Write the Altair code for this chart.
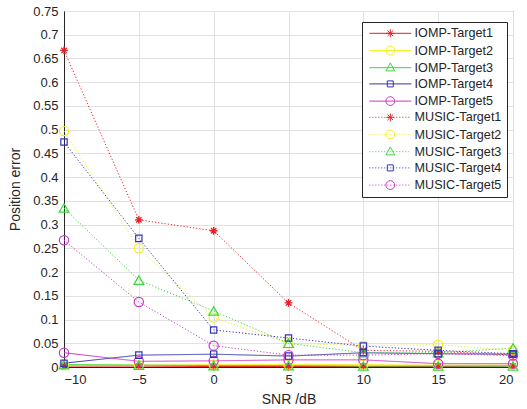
import altair as alt
import pandas as pd

snr = [-10, -5, 0, 5, 10, 15, 20]
series_names = ["IOMP-Target1", "IOMP-Target2", "IOMP-Target3", "IOMP-Target4", "IOMP-Target5",
                "MUSIC-Target1", "MUSIC-Target2", "MUSIC-Target3", "MUSIC-Target4", "MUSIC-Target5"]
iomp_t1 = [0.002, 0.002, 0.001, 0.001, 0.001, 0.001, 0.002]
iomp_t2 = [0.004, 0.004, 0.005, 0.005, 0.005, 0.004, 0.004]
iomp_t3 = [0.005, 0.004, 0.003, 0.003, 0.002, 0.002, 0.002]
iomp_t4 = [0.008, 0.025, 0.027, 0.023, 0.030, 0.028, 0.027]
iomp_t5 = [0.030, 0.012, 0.013, 0.015, 0.015, 0.007, 0.007]
music_t1 = [0.667, 0.310, 0.287, 0.135, 0.035, 0.033, 0.025]
music_t2 = [0.497, 0.250, 0.104, 0.050, 0.045, 0.047, 0.035]
music_t3 = [0.335, 0.183, 0.118, 0.050, 0.030, 0.030, 0.040]
music_t4 = [0.474, 0.271, 0.078, 0.061, 0.044, 0.035, 0.028]
music_t5 = [0.267, 0.137, 0.045, 0.025, 0.025, 0.028, 0.024]
series_values = [iomp_t1, iomp_t2, iomp_t3, iomp_t4, iomp_t5,
                 music_t1, music_t2, music_t3, music_t4, music_t5]
marker_of_target = ["star", "circle", "triangle", "square", "circle"]

colors = ["#f01c24", "#f2ee2a", "#3ad83a", "#3434b4", "#c838c8"] * 2

rows = []
for i, (name, vals) in enumerate(zip(series_names, series_values)):
    method = name.split("-")[0]
    for x, v in zip(snr, vals):
        rows.append({"snr": x, "value": v, "series": name, "method": method,
                     "marker": marker_of_target[i % 5]})
df = pd.DataFrame(rows)

FONT = "Liberation Sans"
STAR = "M-1,0L1,0M0,-1L0,1M-0.7,-0.7L0.7,0.7M-0.7,0.7L0.7,-0.7"


def f(v):
    return f"{v:.3f}"


def legend_path(marker, dotted):
    x0, x1, cx = -1.0, 9.5, 4.25
    if dotted:
        parts = []
        x = x0
        while x < x1:
            parts.append(f"M{f(x)},0L{f(min(x + 0.25, x1))},0")
            x += 0.75
        line = "".join(parts)
    else:
        line = f"M{f(x0)},0L{f(x1)},0"
    if marker == "star":
        r = 1.0
        d = 0.7 * r
        m = (f"M{f(cx - r)},0L{f(cx + r)},0M{f(cx)},{f(-r)}L{f(cx)},{f(r)}"
             f"M{f(cx - d)},{f(-d)}L{f(cx + d)},{f(d)}M{f(cx - d)},{f(d)}L{f(cx + d)},{f(-d)}")
    elif marker == "circle":
        r = 1.1
        m = f"M{f(cx + r)},0A{f(r)},{f(r)} 0 1 1 {f(cx - r)},0A{f(r)},{f(r)} 0 1 1 {f(cx + r)},0Z"
    elif marker == "triangle":
        m = f"M{f(cx)},-1.2L{f(cx + 1.1)},0.8L{f(cx - 1.1)},0.8Z"
    else:
        s = 0.75
        m = f"M{f(cx - s)},{f(-s)}L{f(cx + s)},{f(-s)}L{f(cx + s)},{f(s)}L{f(cx - s)},{f(s)}Z"
    return line + m


legend_paths = [legend_path(marker_of_target[i % 5], i >= 5) for i in range(10)]

color_scale = alt.Scale(domain=series_names, range=colors)
x_enc = alt.X("snr:Q", title="SNR /dB",
              scale=alt.Scale(domain=[-10, 20], nice=False),
              axis=alt.Axis(values=snr, format="d"))
y_vals = [round(i * 0.05, 2) for i in range(16)]
y_enc = alt.Y("value:Q", title="Position error",
              scale=alt.Scale(domain=[0, 0.75], nice=False, zero=False),
              axis=alt.Axis(values=y_vals, format=".2~f"))

base = alt.Chart(df)

lines = base.mark_line(strokeWidth=1, clip=True).encode(
    x=x_enc, y=y_enc,
    color=alt.Color("series:N", scale=color_scale, legend=None),
    strokeDash=alt.StrokeDash("method:N", scale=alt.Scale(domain=["IOMP", "MUSIC"],
                                                          range=[[1, 0], [1.2, 2]]), legend=None),
    detail="series:N",
)

marker_specs = [("star", STAR, 60, 1.3), ("circle", "circle", 85, 1.2),
                ("triangle", "triangle-up", 95, 1.2), ("square", "square", 40, 1.2)]
point_layers = []
for mk, shape, size, sw in marker_specs:
    point_layers.append(
        base.transform_filter(alt.datum.marker == mk).mark_point(
            shape=shape, filled=False, size=size, strokeWidth=sw, opacity=1
        ).encode(
            x=x_enc, y=y_enc,
            color=alt.Color("series:N", scale=color_scale, legend=None),
        )
    )

leg = alt.Legend(title=None, orient="none", legendX=298, legendY=11,
                 symbolSize=64, symbolStrokeWidth=1,
                 labelOffset=35, rowPadding=3.2,
                 padding=5, fillColor="white", strokeColor="#262626",
                 labelFont=FONT, labelFontSize=12.6, labelColor="#262626")

legend_layer = base.transform_filter("false").mark_point(
    filled=False, strokeWidth=1, opacity=1
).encode(
    x=x_enc, y=y_enc,
    color=alt.Color("series:N", scale=color_scale, legend=leg),
    shape=alt.Shape("series:N", scale=alt.Scale(domain=series_names, range=legend_paths),
                    legend=leg),
    size=alt.value(64),
)

chart = alt.layer(lines, *point_layers, legend_layer).resolve_legend(
    color="independent", shape="independent", strokeDash="independent"
).properties(
    width=449, height=356,
    padding={"left": 64, "top": 11, "right": 14, "bottom": 42},
    autosize="none",
).configure_view(
    stroke="#262626", strokeWidth=1
).configure_axis(
    grid=True, gridColor="#e2e2e2", gridWidth=1,
    domainColor="#262626", ticks=False,
    labelFont=FONT, labelFontSize=13, labelColor="#262626", labelPadding=6,
    titleFont=FONT, titleFontSize=14, titleFontWeight="normal", titleColor="#262626",
).configure_axisY(titlePadding=10).configure_axisX(titlePadding=6)

chart.save("out.html", embed_options={"renderer": "svg", "actions": False})
